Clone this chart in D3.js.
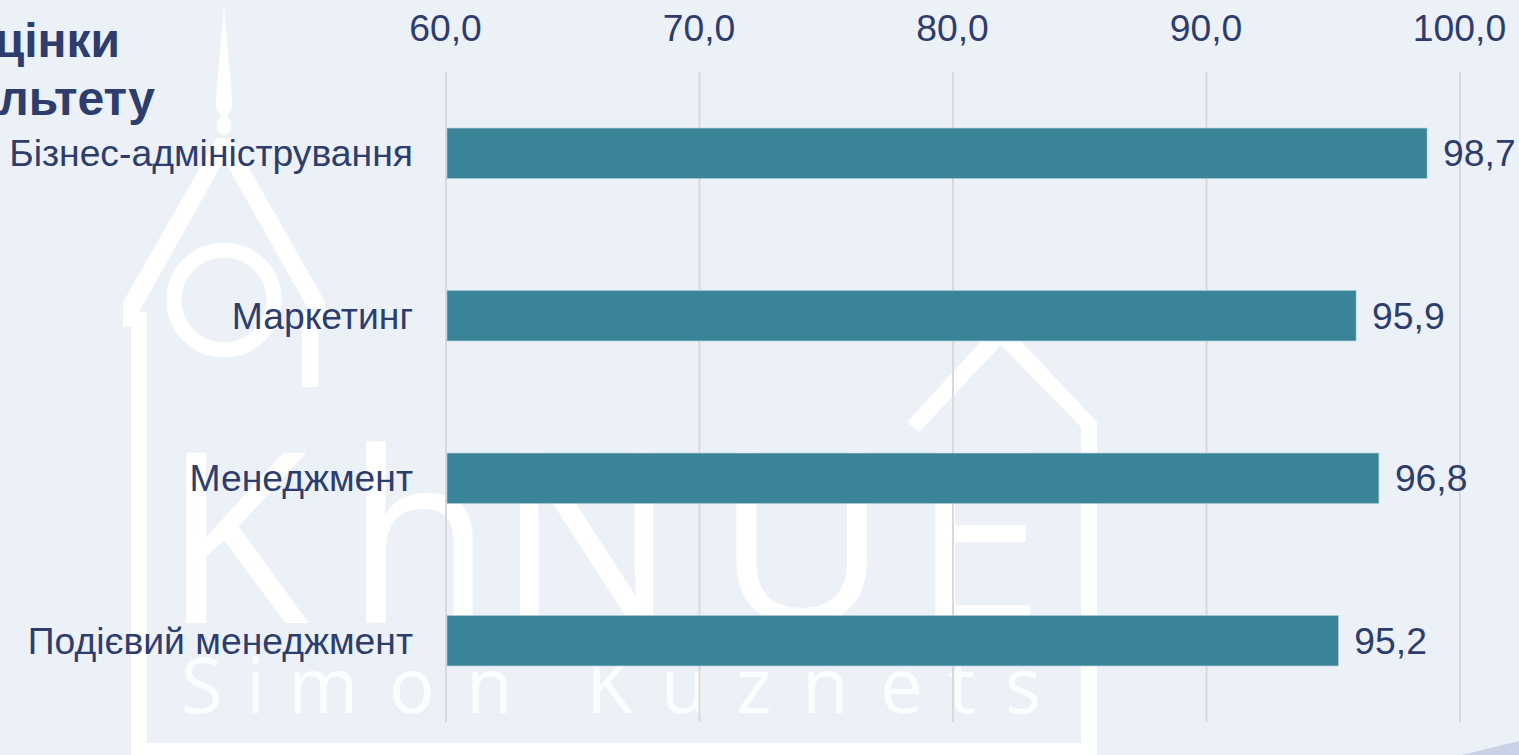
<!DOCTYPE html>
<html>
<head>
<meta charset="utf-8">
<script src="https://cdn.jsdelivr.net/npm/d3@7"></script>
<style>
  html, body { margin: 0; padding: 0; background: #ecf1f8; overflow: hidden; }
  svg { display: block; }
  text { font-family: "Liberation Sans", Arial, sans-serif; }
</style>
</head>
<body>
<div id="chart"></div>
<script>
const categories = ["Бізнес-адміністрування", "Маркетинг", "Менеджмент", "Подієвий менеджмент"];
const values = [98.7, 95.9, 96.8, 95.2];
const tickValues = [60, 70, 80, 90, 100];
const titleLines = ["цінки", "льтету"];

const width = 1519;
const height = 755;
const margin = {top: 72, right: 59, bottom: 33, left: 446};
const ink = "#2e3d6b";
const fontSize = 37.3;

const svg = d3.select("#chart")
  .append("svg")
  .attr("width", width)
  .attr("height", height)
  .attr("viewBox", [0, 0, width, height]);

svg.append("rect").attr("width", width).attr("height", height).attr("fill", "#ecf1f8");

// corner of the slide decoration
svg.append("path").attr("d", "M1462,755L1519,741V755Z").attr("fill", "#c9d1e6");

// watermark logo behind the chart
const logo = svg.append("g").attr("fill", "#fff");
logo.append("path").attr("d", "M224,4L232,100V108L227,116H221L216,108V100Z");
logo.append("ellipse").attr("cx", 224).attr("cy", 125).attr("rx", 7).attr("ry", 10);
logo.append("path").attr("d", "M217,138H232L325,302V327H318V387H302V312H310L224,160L139,312H147V743H1081V427L1001,345L919,432L907,422L1001,320L1097,422V755H131V327H123V302Z");
logo.append("circle").attr("cx", 224).attr("cy", 300).attr("r", 50)
  .attr("fill", "none").attr("stroke", "#fff").attr("stroke-width", 15);
logo.append("text")
  .attr("x", "163 346 497 715 912").attr("y", 623)
  .attr("font-size", 238)
  .style("font-family", "'Open Sans'")
  .text("KhNUE");
logo.append("text")
  .attr("x", "181 246 288 389 466 586 661 736 802 880 948 1005").attr("y", 713)
  .attr("font-size", 76)
  .attr("fill-opacity", 0.85)
  .style("font-family", "'Open Sans'")
  .text("SimonKuznets");

const x = d3.scaleLinear()
  .domain([60, 100])
  .range([margin.left, width - margin.right]);

const y = d3.scaleBand()
  .domain(categories)
  .range([margin.top, height - margin.bottom])
  .paddingInner(0.69)
  .paddingOuter(0.345);

const comma = d3.formatLocale({decimal: ",", thousands: " ", grouping: [3], currency: ["", ""]}).format(".1f");

// gridlines
svg.append("g")
  .selectAll("line")
  .data(tickValues)
  .join("line")
  .attr("x1", d => x(d))
  .attr("x2", d => x(d))
  .attr("y1", margin.top)
  .attr("y2", height - margin.bottom)
  .attr("stroke", "#d9d9d9")
  .attr("stroke-width", 2);

// bars
svg.append("g")
  .selectAll("rect")
  .data(values)
  .join("rect")
  .attr("x", x(60) + 1)
  .attr("y", (d, i) => y(categories[i]))
  .attr("width", d => x(d) - x(60) - 1)
  .attr("height", y.bandwidth())
  .attr("fill", "#3a8499")
  .attr("stroke", "#a7c9d4")
  .attr("stroke-width", 0.6);

// value labels
svg.append("g")
  .selectAll("text")
  .data(values)
  .join("text")
  .attr("x", d => x(d) + 16)
  .attr("y", (d, i) => y(categories[i]) + y.bandwidth() / 2)
  .attr("dy", "0.35em")
  .attr("font-size", fontSize)
  .attr("fill", ink)
  .text(d => comma(d));

// axes, no domain line and no ticks
const xAxis = svg.append("g")
  .attr("transform", `translate(-1,${margin.top})`)
  .call(d3.axisTop(x).tickValues(tickValues).tickFormat(comma).tickSize(0).tickPadding(31));

const yAxis = svg.append("g")
  .attr("transform", `translate(${margin.left},1)`)
  .call(d3.axisLeft(y).tickSize(0).tickPadding(33));

[xAxis, yAxis].forEach(a => {
  a.select(".domain").remove();
  a.selectAll("text")
    .attr("font-size", fontSize)
    .attr("font-family", null)
    .attr("fill", ink);
});

// title is cut by the left edge of the slide
svg.append("g")
  .selectAll("text")
  .data(titleLines)
  .join("text")
  .attr("x", (d, i) => i === 0 ? 120 : 155)
  .attr("y", (d, i) => 57 + i * 57.5)
  .attr("text-anchor", "end")
  .attr("font-size", 48)
  .attr("font-weight", "bold")
  .attr("fill", ink)
  .text(d => d);
</script>
</body>
</html>
